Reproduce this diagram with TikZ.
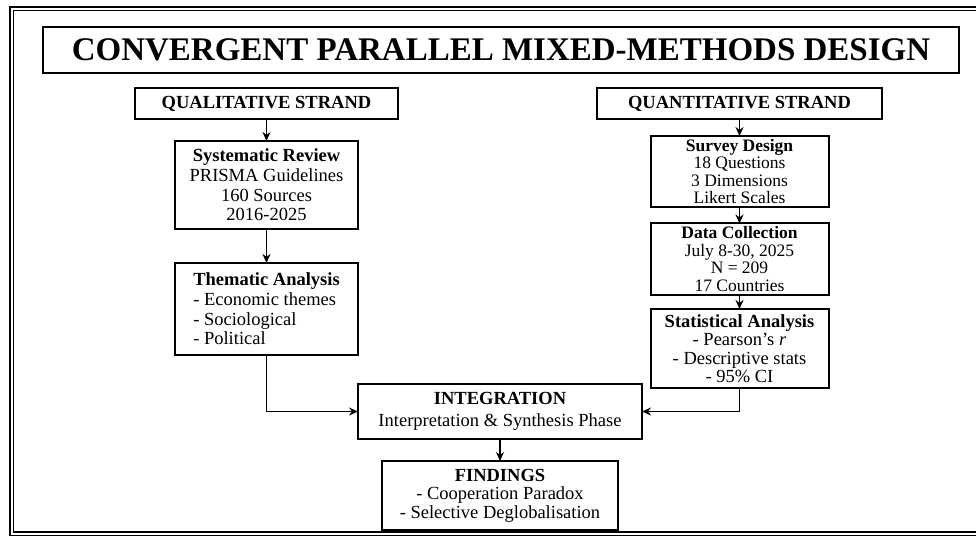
\documentclass[tikz,border=0pt]{standalone}
\usepackage{fontspec}
\setmainfont{Liberation Serif}
\usepackage{graphicx}
\usetikzlibrary{positioning}
\usetikzlibrary{arrows.meta, positioning}
\tikzstyle{titlebox} = [rectangle, draw=black, line width=2pt, outer sep=0pt, minimum width=916pt, minimum height=46pt, text centered, font=\fontsize{33}{36}\selectfont\bfseries]
\tikzstyle{strand} = [rectangle, draw=black, line width=2pt, outer sep=0pt, minimum height=31pt, text centered, font=\fontsize{18.5}{20}\selectfont\bfseries]
\tikzstyle{process} = [rectangle, draw=black, line width=2pt, outer sep=0pt, minimum width=183pt, text centered, align=center, font=\fontsize{18.5}{19.7}\selectfont]
\tikzstyle{tight} = [font=\fontsize{17.5}{17.5}\selectfont]
\tikzstyle{arrow} = [line width=1.8pt, -{Stealth[length=9pt, width=8pt]}]

\begin{document}
\begin{tikzpicture}[x=1pt, y=-1pt]
\useasboundingbox (0,0) rectangle (976,538);
\draw [double, double distance=2pt, line width=1.1pt] (11.5,8.5) rectangle (990,533.5);

\node (title) [titlebox] at (501,50) {CONVERGENT PARALLEL MIXED-METHODS DESIGN};
\node (qual) [strand, minimum width=263pt] at (266.5,103.5) {QUALITATIVE STRAND};
\node (quant) [strand, minimum width=285pt] at (739.5,103.5) {QUANTITATIVE STRAND};

\node (review) [process, minimum height=88pt, below=22pt of qual] {\textbf{Systematic Review}\\PRISMA Guidelines\\160 Sources\\2016-2025};
\node (themes) [process, minimum height=92pt, below=34pt of review, align=left] {\textbf{Thematic Analysis}\\- Economic themes\\- Sociological\\- Political};

\node (survey) [process, tight, minimum width=178pt, minimum height=71pt, below=17pt of quant] {\textbf{Survey Design}\\18 Questions\\3 Dimensions\\Likert Scales};
\node (collect) [process, tight, minimum width=178pt, minimum height=71pt, below=16pt of survey] {\textbf{Data Collection}\\July 8-30, 2025\\N = 209\\17 Countries};
\node (stats) [process, font=\fontsize{18.5}{18.5}\selectfont, minimum width=178pt, minimum height=79pt, below=14pt of collect] {\textbf{Statistical Analysis}\\- Pearson's \textit{r}\\- Descriptive stats\\- 95\% CI};

\node (integ) [process, font=\fontsize{18.5}{22}\selectfont, minimum width=284pt, minimum height=55pt] at (500,411.5) {\textbf{INTEGRATION}\\Interpretation \& Synthesis Phase};
\node (findings) [process, font=\fontsize{18.5}{18.5}\selectfont, minimum width=236pt, minimum height=69pt, below=22pt of integ] {\textbf{FINDINGS}\\- Cooperation Paradox\\- Selective Deglobalisation};

\draw [arrow] (qual) -- (review);
\draw [arrow] (review) -- (themes);
\draw [arrow] (quant) -- (survey);
\draw [arrow] (survey) -- (collect);
\draw [arrow] (collect) -- (stats);
\draw [arrow] (themes.south) |- (integ.west);
\draw [arrow] (stats.south) |- (integ.east);
\draw [arrow] (integ) -- (findings);

\end{tikzpicture}
\end{document}
